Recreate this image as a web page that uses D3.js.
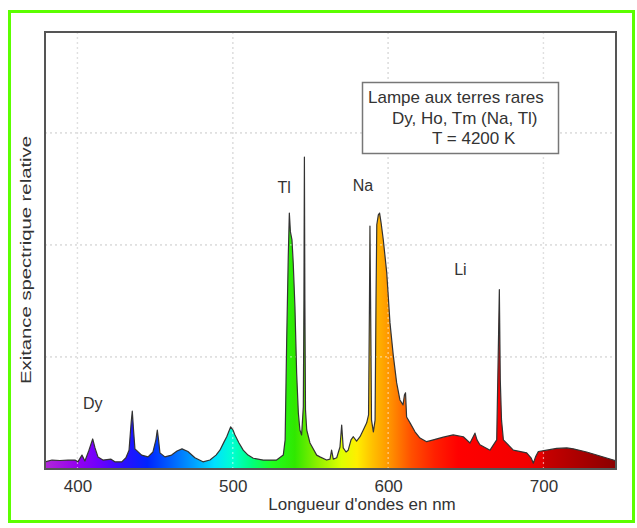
<!DOCTYPE html>
<html><head><meta charset="utf-8">
<script src="https://cdn.jsdelivr.net/npm/d3@7"></script>
<style>html,body{margin:0;padding:0;background:#fff;}svg{display:block;font-family:"Liberation Sans",Arial,sans-serif;}</style>
</head><body>
<svg id="c" width="637" height="528"></svg>
<script>
// ---- data ----
const wavelengths = [379.1,383.6,388.7,393.9,398.4,400.3,402.9,404.8,407.4,409.8,411.3,413.2,416.4,421.6,424.1,428.5,431.2,433.2,434.6,435.3,436.1,437.0,441.3,445.4,448.6,450.5,451.4,452.2,453.1,456.3,460.6,464.1,467.3,471.1,475.6,480.8,485.3,489.2,491.7,494.3,496.1,498.6,500.1,501.4,504.0,506.7,509.8,513.2,519.6,528.2,532.5,533.7,534.7,535.7,536.4,537.1,538.1,538.9,540.0,541.1,542.2,543.2,544.3,545.4,545.8,546.1,546.4,546.8,547.6,549.7,554.0,556.1,560.4,562.6,563.6,564.7,566.9,569.0,570.1,571.1,572.9,574.3,576.1,577.6,579.7,581.9,584.0,586.2,587.4,588.0,588.3,588.7,589.3,590.5,591.6,592.2,592.7,593.7,594.5,595.4,596.9,599.1,601.2,603.3,605.5,607.6,609.6,610.5,611.2,611.9,614.1,617.3,620.5,624.8,629.1,635.5,641.9,648.4,652.7,654.6,655.9,657.2,659.1,665.6,669.9,670.9,671.6,672.2,673.0,674.2,680.6,689.2,692.0,693.5,694.9,696.7,702.1,708.5,715.0,719.2,727.8,736.4,745.0,746.7];
const exitance = [1.6,2.0,1.9,2.0,2.0,1.6,3.1,1.8,4.2,6.7,4.7,2.7,2.0,2.2,1.6,1.6,2.5,4.2,10.5,12.9,8.7,4.5,3.1,2.7,3.8,6.5,8.7,6.5,3.6,2.7,3.1,4.0,4.5,3.9,2.5,1.6,2.0,3.1,4.2,6.0,7.2,9.4,8.7,7.6,5.8,4.2,3.1,2.4,2.0,2.0,3.1,6.5,28.8,47.3,57.1,52.9,51.1,46.0,36.2,21.4,12.5,8.7,7.6,13.8,37.7,69.6,37.7,13.2,8.7,5.8,3.1,2.7,2.0,2.2,4.2,2.2,2.5,4.9,9.8,4.7,3.8,4.2,6.5,7.2,6.2,7.2,8.7,10.3,12.1,37.7,54.2,37.7,10.9,8.3,10.9,37.7,54.5,56.7,57.1,55.1,51.1,43.8,32.6,25.4,19.2,15.4,14.3,16.5,17.0,11.6,10.3,8.3,6.9,6.1,6.5,7.1,7.6,7.2,5.8,7.1,8.0,6.5,5.4,4.2,6.5,25.9,40.0,19.9,10.9,6.5,4.2,3.6,2.5,1.3,2.7,3.9,4.2,4.6,4.7,4.5,3.8,2.9,2.0,1.8];
const xTicks = [400, 500, 600, 700];
const yGrid = [25, 50, 75];
const peakLabels = ["Dy", "Tl", "Na", "Li"];
const peakNm = [403.6, 528.8, 577.2, 642.5];
const peakVal = [13.3, 61.6, 62.1, 43.3];
const boxLines = ["Lampe aux terres rares", "Dy, Ho, Tm (Na, Tl)", "T = 4200 K"];
const xTitle = "Longueur d'ondes en nm";
const yTitle = "Exitance spectrique relative";
// colour of the spectrum fill by wavelength
const stopNm = [379,400,415,430,445,460,475,488,500,512,525,540,555,570,580,590,600,615,630,645,690,700,700.5,746.7];
const stopColor = ["#b028d8","#9400f0","#6a00ff","#2a10ff","#0024ff","#0060ff","#00a0ff","#00e0ff","#00ffd0","#00ff80","#20ff20","#30e800","#90f000","#e0ff00","#ffee00","#ffc000","#ff9800","#ff5000","#ff2000","#ff0000","#f20000","#e60000","#c80000","#8a0000"];

const svg = d3.select("#c");
const L = 45, R = 616, T = 32, B = 469;
const x = d3.scaleLinear().domain([379.1, 746.7]).range([L, R]);
const y = d3.scaleLinear().domain([0, 97.5]).range([B, T]);

// outer green frame
svg.append("rect").attr("x", 9.5).attr("y", 11.5).attr("width", 624).attr("height", 510)
  .attr("fill", "#fff").attr("stroke", "#5cff00").attr("stroke-width", 3);

const defs = svg.append("defs");
defs.append("clipPath").attr("id", "clip").append("rect")
  .attr("x", L).attr("y", T).attr("width", R - L).attr("height", B - T);
const grad = defs.append("linearGradient").attr("id", "spec")
  .attr("gradientUnits", "userSpaceOnUse")
  .attr("x1", x(379.1)).attr("x2", x(746.7)).attr("y1", 0).attr("y2", 0);
stopNm.forEach((n, i) => {
  grad.append("stop").attr("offset", (x(n) - x(379.1)) / (x(746.7) - x(379.1)))
    .attr("stop-color", stopColor[i]);
});

// grid (below)
const gridG = svg.append("g");
function drawGrid(g, color, w) {
  g.selectAll(".vg").data(xTicks).join("line").attr("class", "vg")
    .attr("x1", d => x(d)).attr("x2", d => x(d)).attr("y1", T).attr("y2", B)
    .attr("stroke", color).attr("stroke-width", w).attr("stroke-dasharray", "2,3");
  g.selectAll(".hg").data(yGrid).join("line").attr("class", "hg")
    .attr("x1", L).attr("x2", R).attr("y1", d => y(d)).attr("y2", d => y(d))
    .attr("stroke", color).attr("stroke-width", w).attr("stroke-dasharray", "2,3");
}
drawGrid(gridG, "#bbbbbb", 1.2);

const pts = wavelengths.map((w, i) => [w, exitance[i]]);
const plot = svg.append("g").attr("clip-path", "url(#clip)");
plot.append("path").datum(pts)
  .attr("d", d3.area().x(d => x(d[0])).y0(B).y1(d => y(d[1])))
  .attr("fill", "url(#spec)");
drawGrid(plot.append("g"), "rgba(255,255,255,0.55)", 1.2);
plot.append("path").datum(pts)
  .attr("d", d3.line().x(d => x(d[0])).y(d => y(d[1])))
  .attr("fill", "none").attr("stroke", "#333").attr("stroke-width", 1.2)
  .attr("stroke-linejoin", "round");

// plot frame
svg.append("rect").attr("x", L).attr("y", T).attr("width", R - L).attr("height", B - T)
  .attr("fill", "none").attr("stroke", "#555").attr("stroke-width", 2);

// x axis labels
const xAxis = d3.axisBottom(x).tickValues(xTicks).tickSize(0).tickPadding(11);
const ax = svg.append("g").attr("transform", `translate(0,${B})`).call(xAxis);
ax.select(".domain").remove();
ax.selectAll("text").attr("font-size", 17).attr("fill", "#333")
  .attr("font-family", "Liberation Sans, Arial, sans-serif");

svg.append("text").attr("x", 362).attr("y", 510).attr("text-anchor", "middle")
  .attr("font-size", 17).attr("fill", "#333").text(xTitle);
svg.append("text").attr("transform", "translate(31,260) rotate(-90)")
  .attr("text-anchor", "middle").attr("font-size", 14.5).attr("fill", "#333")
  .attr("textLength", 248).attr("lengthAdjust", "spacingAndGlyphs").text(yTitle);

// peak labels
svg.selectAll(".pk").data(peakLabels).join("text").attr("class", "pk")
  .attr("x", (d, i) => x(peakNm[i])).attr("y", (d, i) => y(peakVal[i]))
  .attr("font-size", 16).attr("fill", "#333").text(d => d);

// info box
svg.append("rect").attr("x", 362.5).attr("y", 82.5).attr("width", 196).attr("height", 71)
  .attr("fill", "#fff").attr("stroke", "#777").attr("stroke-width", 1.5);
const bx = [368, 392, 432], by = [103, 123.5, 144];
svg.selectAll(".bl").data(boxLines).join("text").attr("class", "bl")
  .attr("x", (d, i) => bx[i]).attr("y", (d, i) => by[i])
  .attr("font-size", 17).attr("fill", "#333").text(d => d);
</script>
</body></html>
